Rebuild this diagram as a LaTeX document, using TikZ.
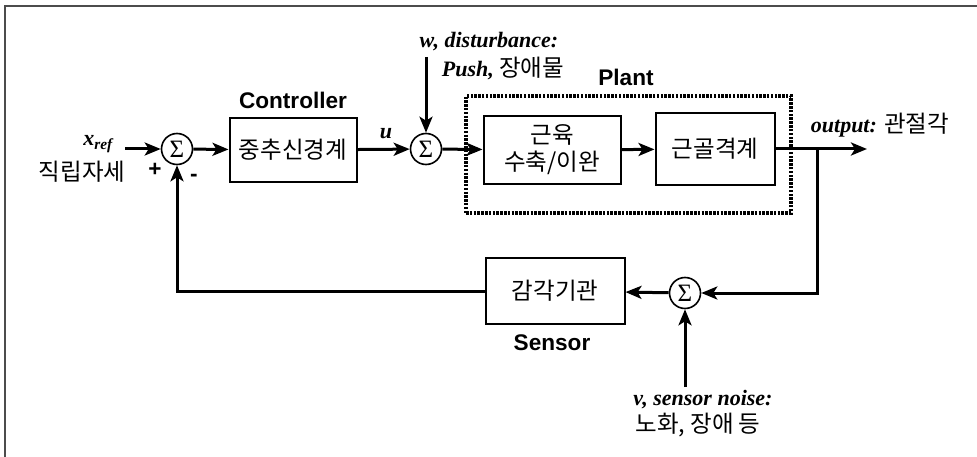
\documentclass[tikz,border=0pt]{standalone}
\usepackage{fontspec}
\setmainfont{Liberation Serif}
\newfontfamily\arialf{Liberation Sans}
\newfontfamily\kor{Noto Sans CJK KR}
\usetikzlibrary{arrows.meta}

\begin{document}
\begin{tikzpicture}[x=1pt,y=-1pt,
    arr/.style={line width=3pt,-{Stealth[length=16pt,width=13pt,inset=4pt]}},
    blk/.style={draw,line width=2pt,inner sep=0pt,align=center,font=\kor\fontsize{23.5}{27}\selectfont},
    sumnode/.style={draw,circle,line width=1.6pt,minimum size=31pt,inner sep=0pt,font=\fontsize{25}{25}\selectfont},
    ttl/.style={font=\arialf\bfseries\fontsize{22.6}{26}\selectfont},
    kt/.style={font=\kor\fontsize{23.5}{27}\selectfont},
    bi/.style={font=\bfseries\itshape\fontsize{22}{26}\selectfont}
]

\useasboundingbox (0,0) rectangle (977,457);
\draw[gray!60!black,line width=2pt] (5,457)--(5,6)--(977,6);

\node[sumnode] (S1) at (177,149) {Σ};
\node[sumnode] (S2) at (426,149) {Σ};
\node[sumnode] (S3) at (685,293) {Σ};

\node[blk,minimum width=127pt,minimum height=64pt] (ctrl) at (293,150) {중추신경계};
\node[blk,minimum width=137pt,minimum height=68pt] (mus) at (552,150) {근육\\수축/이완};
\node[blk,minimum width=119pt,minimum height=72pt] (skel) at (715,149) {근골격계};
\node[blk,minimum width=139pt,minimum height=66pt] (sens) at (555,291) {감각기관};
\node[draw,line width=4pt,dash pattern=on 2.5pt off 1.3pt,
      minimum width=325pt,minimum height=117pt] (plant) at (628.5,154.5) {};

\coordinate (in) at (125,149);
\coordinate (out) at (867,149);
\coordinate (br) at (817,149);
\coordinate (wtop) at (426,57);
\coordinate (vbot) at (685,387);

\draw[arr] (in)--(S1);
\draw[arr] (S1)--(ctrl);
\draw[arr] (ctrl)--(S2);
\draw[arr] (S2)--(mus);
\draw[arr] (mus)--(skel);
\draw[arr] (skel)--(out);
\draw[arr] (wtop)--(S2);
\draw[arr] (br)|-(S3);
\draw[arr] (S3)--(sens);
\draw[arr] (vbot)--(S3);
\draw[arr] (sens.west)-|(S1.south);

\node[bi] (xref) at (98,144) {x\textsubscript{ref}};
\node[kt] (xrefk) at (82,172) {직립자세};
\node[ttl] (plus) at (155,170) {+};
\node[ttl] (minus) at (194,178) {-};
\node[bi] (u) at (386,134) {u};

\node[ttl] (ctrlt) at (293,100) {Controller};
\node[ttl] (plantt) at (626,77) {Plant};
\node[ttl] (senst) at (552,343) {Sensor};

\node[bi] (wlab) at (489,42) {w, disturbance:};
\node[bi] (wlab2) at (503,68) {Push, {\normalfont\kor\fontsize{23.5}{27}\selectfont 장애물}};
\node[bi] (outlab) at (880,125) {output: {\normalfont\kor\fontsize{23.5}{27}\selectfont 관절각}};
\node[bi] (vlab) at (703,400) {v, sensor noise:};
\node[kt] (vlab2) at (698,425) {노화, 장애 등};

\end{tikzpicture}
\end{document}
